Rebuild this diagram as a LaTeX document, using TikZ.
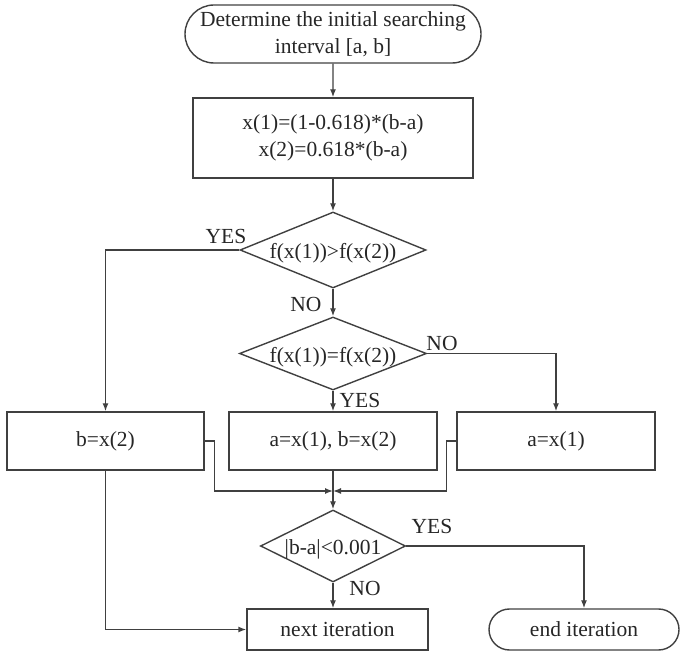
\documentclass[tikz,border=0pt]{standalone}
\usepackage{fontspec}
\setmainfont{Liberation Serif}
\usetikzlibrary{shapes.geometric,shapes.misc,arrows.meta}

\begin{document}
\begin{tikzpicture}[x=0.5pt,y=-0.5pt,
  every node/.style={font=\fontsize{10.75}{13.5}\selectfont, text=black!85},
  proc/.style={draw=black!75, line width=0.7pt, rectangle, inner sep=0pt, align=center},
  term/.style={draw=black!75, line width=0.7pt, rounded rectangle, inner sep=0pt, align=center},
  test/.style={draw=black!75, line width=0.7pt, diamond, inner sep=0pt, text height=9pt, text depth=0pt},
  flow/.style={draw=black!75, line width=0.7pt, -{Latex[length=4pt,width=3pt]}}]
\useasboundingbox (0,0) rectangle (680,651);

\node[term, minimum width=148pt, minimum height=29pt] (start) at (333,34) {Determine the initial searching\\interval [a, b]};
\node[proc, minimum width=140pt, minimum height=40pt] (init) at (333,138) {x(1)=(1-0.618)*(b-a)\\x(2)=0.618*(b-a)};
\node[test, minimum width=93pt, minimum height=38pt] (cmp1) at (333,250) {\makebox[0pt]{f(x(1))>f(x(2))}};
\node[test, minimum width=93.5pt, minimum height=36.5pt] (cmp2) at (333,353.5) {\makebox[0pt]{f(x(1))=f(x(2))}};

\node[proc, minimum width=98.5pt, minimum height=29pt] (bset) at (105.5,441) {b=x(2)};
\node[proc, minimum width=104pt, minimum height=29pt] (abset) at (333,441) {a=x(1), b=x(2)};
\node[proc, minimum width=99pt, minimum height=29pt] (aset) at (556,441) {a=x(1)};
\coordinate (join) at (333,491);

\node[test, minimum width=72.5pt, minimum height=36pt] (chk) at (333,546) {\makebox[0pt]{|b-a|<0.001}};
\node[proc, minimum width=90.5pt, minimum height=20.5pt] (next) at (337.5,629.5) {next iteration};
\node[term, minimum width=95pt, minimum height=20.5pt] (stop) at (584,629.5) {end iteration};

% branch labels
\node (yes1) at (226,236) {YES};
\node (no1) at (306,304) {NO};
\node (no2) at (442,343) {NO};
\node (yes2) at (360,400) {YES};
\node (yes3) at (432,526) {YES};
\node (no3) at (365,588) {NO};

\draw[flow] (start) -- (init);
\draw[flow] (init) -- (cmp1);
\draw[flow] (cmp1.west) -| (bset.north);
\draw[flow] (cmp1) -- (cmp2);
\draw[flow] (cmp2.east) -| (aset.north);
\draw[flow] (cmp2) -- (abset);
\draw[flow] (bset.east) -- ++(10,0) |- (join);
\draw[flow] (aset.west) -- ++(-10,0) |- (join);
\draw[flow] (abset) -- (chk);
\draw[flow] (chk.east) -| (stop.north);
\draw[flow] (chk.south) -- (chk.south |- next.north);
\draw[flow] (bset.south) |- (next.west);
\end{tikzpicture}
\end{document}
